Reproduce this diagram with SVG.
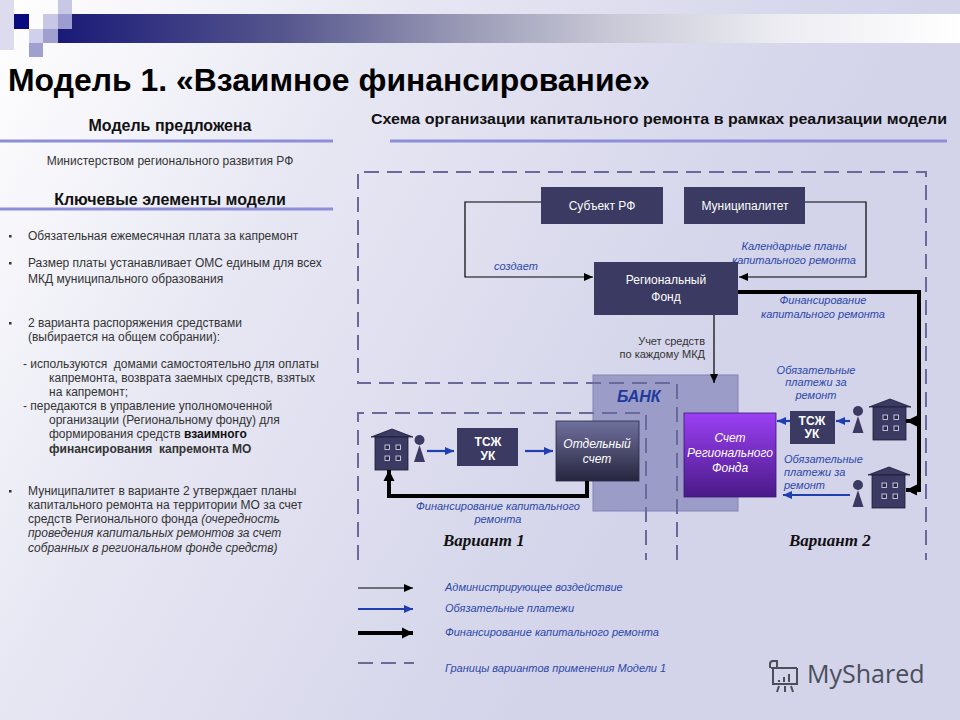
<svg xmlns="http://www.w3.org/2000/svg" width="960" height="720" viewBox="0 0 960 720">
<defs>
<linearGradient id="bg" gradientUnits="userSpaceOnUse" x1="0" y1="0" x2="700" y2="400">
<stop offset="0" stop-color="#ffffff"/><stop offset="0.45" stop-color="#e6e6f3"/><stop offset="1" stop-color="#d3d3ea"/>
</linearGradient>
<linearGradient id="bar" x1="0" y1="0" x2="1" y2="0">
<stop offset="0" stop-color="#1a1a78"/><stop offset="0.25" stop-color="#56568e"/><stop offset="0.45" stop-color="#9a9ab6"/><stop offset="0.62" stop-color="#cacad8"/><stop offset="0.8" stop-color="#ececf2"/><stop offset="1" stop-color="#ffffff"/>
</linearGradient>
<linearGradient id="gSep" x1="0" y1="0" x2="0" y2="1">
<stop offset="0" stop-color="#70709e"/><stop offset="1" stop-color="#26263e"/>
</linearGradient>
<linearGradient id="gFund" x1="0" y1="0" x2="0" y2="1">
<stop offset="0" stop-color="#9b40f4"/><stop offset="1" stop-color="#4a1a88"/>
</linearGradient>
<marker id="aThin" markerUnits="userSpaceOnUse" markerWidth="10" markerHeight="10" refX="9" refY="5" orient="auto">
<path d="M0,1 L9,5 L0,9 Z" fill="#000"/>
</marker>
<marker id="aBlue" markerUnits="userSpaceOnUse" markerWidth="10" markerHeight="10" refX="9" refY="5" orient="auto">
<path d="M0,1 L9,5 L0,9 Z" fill="#1f3eb0"/>
</marker>
<marker id="aThick" markerUnits="userSpaceOnUse" markerWidth="12" markerHeight="12" refX="11" refY="6" orient="auto">
<path d="M0,0.5 L11,6 L0,11.5 Z" fill="#000"/>
</marker>
<g id="house">
<path d="M-21,8 L0,0 L21,8 Z" fill="#3a3a62" stroke="#1c1c34" stroke-width="0.8"/>
<rect x="-17" y="8" width="33" height="33" fill="#3a3a62" stroke="#1c1c34" stroke-width="0.8"/>
<rect x="-7" y="16" width="4.5" height="4.5" fill="#2a2a48" stroke="#d0d0e8" stroke-width="0.9"/>
<rect x="4" y="16" width="4.5" height="4.5" fill="#2a2a48" stroke="#d0d0e8" stroke-width="0.9"/>
<rect x="-7" y="27" width="4.5" height="4.5" fill="#2a2a48" stroke="#d0d0e8" stroke-width="0.9"/>
<rect x="4" y="27" width="4.5" height="4.5" fill="#2a2a48" stroke="#d0d0e8" stroke-width="0.9"/>
</g>
<g id="person">
<circle cx="0" cy="0" r="5" fill="#3a3a62"/>
<path d="M0,5 L5.5,22 L-5.5,22 Z" fill="#3a3a62"/>
</g>
</defs>
<style>
.t{font-family:"Liberation Sans",Arial,sans-serif;}
.body{font-family:"Liberation Sans",Arial,sans-serif;font-size:12px;fill:#333;}
.hd{font-family:"Liberation Sans",Arial,sans-serif;font-size:16px;font-weight:bold;fill:#111;}
.lbl{font-family:"Liberation Sans",Arial,sans-serif;font-size:11px;font-style:italic;fill:#2c48a8;}
.box{fill:#3a3a62;}
.btx{font-family:"Liberation Sans",Arial,sans-serif;font-size:12px;fill:#fff;text-anchor:middle;}
.bold{font-weight:bold;}
.var{font-family:"Liberation Serif","Times New Roman",serif;font-size:17px;font-weight:bold;font-style:italic;fill:#111;}
.dash{fill:none;stroke:#6a6a9a;stroke-width:2;stroke-dasharray:15 8;}
.thin{fill:none;stroke:#000;stroke-width:1.2;}
.blue{fill:none;stroke:#1f3eb0;stroke-width:2.2;}
.thick{fill:none;stroke:#000;stroke-width:4;}
.uline{stroke:#8e8ed8;stroke-width:3;}
</style>

<rect x="0" y="0" width="960" height="720" fill="url(#bg)"/>

<g id="decor">
<rect x="0" y="0" width="14" height="50" fill="#dcdcee"/>
<rect x="58" y="14" width="902" height="29" fill="url(#bar)"/>
<rect x="14" y="14" width="15" height="15" fill="#0a0a80"/>
<rect x="43" y="14" width="15" height="15" fill="#c8c8e6"/>
<rect x="58" y="0" width="14" height="14" fill="#c8c8e6"/>
<rect x="58" y="14" width="14" height="15" fill="#9c9cd0"/>
<rect x="29" y="29" width="14" height="14" fill="#d0d0ea"/>
<rect x="43" y="29" width="15" height="14" fill="#a0a0d0"/>
<rect x="29" y="43" width="14" height="14" fill="#a0a0d0"/>
</g>

<g id="title">
<text class="t" x="8" y="91" font-size="31" font-weight="bold" fill="#000" textLength="642" lengthAdjust="spacingAndGlyphs">Модель 1. «Взаимное финансирование»</text>
</g>

<g id="left-column">
<text class="hd" x="170" y="131" text-anchor="middle">Модель предложена</text>
<line class="uline" x1="0" y1="141" x2="333" y2="141"/>
<text class="body" x="170" y="165" text-anchor="middle">Министерством регионального развития РФ</text>
<text class="hd" x="170" y="205" text-anchor="middle">Ключевые элементы модели</text>
<line class="uline" x1="0" y1="209" x2="333" y2="209"/>

<rect x="9" y="235" width="2.5" height="2.5" fill="#333"/>
<text class="body" x="28" y="240">Обязательная ежемесячная плата за капремонт</text>
<rect x="9" y="262" width="2.5" height="2.5" fill="#333"/>
<text class="body" x="28" y="267">Размер платы устанавливает ОМС единым для всех</text>
<text class="body" x="28" y="283">МКД муниципального образования</text>

<rect x="9" y="322" width="2.5" height="2.5" fill="#333"/>
<text class="body" x="28" y="327">2 варианта распоряжения средствами</text>
<text class="body" x="28" y="341">(выбирается на общем собрании):</text>
<text class="body" x="23" y="368" xml:space="preserve">- используются  домами самостоятельно для оплаты</text>
<text class="body" x="49" y="382">капремонта, возврата заемных средств, взятых</text>
<text class="body" x="49" y="396">на капремонт;</text>
<text class="body" x="23" y="410">- передаются в управление уполномоченной</text>
<text class="body" x="49" y="424">организации (Региональному фонду) для</text>
<text class="body" x="49" y="438">формирования средств <tspan class="bold" fill="#111">взаимного</tspan></text>
<text class="body bold" x="49" y="453" fill="#111" xml:space="preserve">финансирования  капремонта МО</text>

<rect x="9" y="490" width="2.5" height="2.5" fill="#333"/>
<text class="body" x="28" y="495">Муниципалитет в варианте 2 утверждает планы</text>
<text class="body" x="28" y="509">капитального ремонта на территории МО за счет</text>
<text class="body" x="28" y="523">средств Регионального фонда <tspan font-style="italic">(очередность</tspan></text>
<text class="body" x="28" y="537" font-style="italic">проведения капитальных ремонтов за счет</text>
<text class="body" x="28" y="552" font-style="italic">собранных в региональном фонде средств)</text>
</g>

<g id="scheme-header">
<text class="t" x="371" y="124" font-size="15.5" font-weight="bold" fill="#111" textLength="576" lengthAdjust="spacingAndGlyphs">Схема организации капитального ремонта в рамках реализации модели</text>
<line class="uline" x1="390" y1="141" x2="947" y2="141"/>
</g>

<g id="bank">
<rect x="593" y="375" width="145" height="136" fill="#9c9cc8" stroke="#8484b4" stroke-width="1"/>
<text class="t" x="617" y="402" font-size="16" font-weight="bold" font-style="italic" fill="#1e3a9a">БАНК</text>
</g>

<g id="boundaries">
<path class="dash" d="M677,560 V383 H358 V172 H926 V560"/>
<path class="dash" d="M358,560 V413 H646 V560"/>
</g>

<g id="labels">
<text class="lbl" x="794" y="250" text-anchor="middle">Календарные планы</text>
<text class="lbl" x="794" y="264" text-anchor="middle">капитального ремонта</text>
<text class="lbl" x="494" y="270" font-size="11.5">создает</text>
<text class="lbl" x="823" y="304" text-anchor="middle">Финансирование</text>
<text class="lbl" x="823" y="318" text-anchor="middle">капитального ремонта</text>
<text class="t" x="705" y="345" font-size="11" fill="#333" text-anchor="end">Учет средств</text>
<text class="t" x="705" y="358" font-size="11" fill="#333" text-anchor="end">по каждому МКД</text>
<text class="lbl" x="816" y="374" text-anchor="middle">Обязательные</text>
<text class="lbl" x="816" y="386" text-anchor="middle">платежи за</text>
<text class="lbl" x="816" y="399" text-anchor="middle">ремонт</text>
<text class="lbl" x="784" y="463">Обязательные</text>
<text class="lbl" x="784" y="476">платежи за</text>
<text class="lbl" x="784" y="489">ремонт</text>
<text class="lbl" x="498" y="510" text-anchor="middle">Финансирование капитального</text>
<text class="lbl" x="498" y="523" text-anchor="middle">ремонта</text>
<text class="var" x="443" y="546">Вариант 1</text>
<text class="var" x="789" y="546">Вариант 2</text>
</g>

<g id="subject-rf">
<rect class="box" x="541" y="187" width="122" height="37"/>
<text class="btx" x="602" y="210">Субъект РФ</text>
</g>
<g id="municipality">
<rect class="box" x="684" y="187" width="121" height="37"/>
<text class="btx" x="745" y="210">Муниципалитет</text>
</g>
<g id="regional-fund">
<rect class="box" x="594" y="262" width="144" height="53"/>
<text class="btx" x="666" y="284">Региональный</text>
<text class="btx" x="666" y="301">Фонд</text>
</g>

<g id="separate-account">
<rect x="556" y="421" width="83" height="60" fill="url(#gSep)" stroke="#2a2a44" stroke-width="0.8"/>
<text class="btx" x="597" y="448" font-size="11.5" font-style="italic">Отдельный</text>
<text class="btx" x="597" y="463" font-size="11.5" font-style="italic">счет</text>
</g>
<g id="fund-account">
<rect x="684" y="413" width="92" height="84" fill="url(#gFund)" stroke="#3a1870" stroke-width="0.8"/>
<text class="btx" x="730" y="442" font-size="11" font-style="italic">Счет</text>
<text class="btx" x="730" y="457" font-size="11" font-style="italic">Регионального</text>
<text class="btx" x="730" y="472" font-size="11" font-style="italic">Фонда</text>
</g>

<g id="tszh-1">
<rect class="box" x="457" y="428" width="61" height="38"/>
<text class="btx bold" x="488" y="446" font-size="11.5">ТСЖ</text>
<text class="btx bold" x="488" y="460" font-size="11.5">УК</text>
</g>
<g id="tszh-2">
<rect class="box" x="790" y="411" width="45" height="33"/>
<text class="btx bold" x="812" y="425" font-size="11.5">ТСЖ</text>
<text class="btx bold" x="812" y="438" font-size="11.5">УК</text>
</g>

<g id="house-1"><use href="#house" x="392" y="429"/></g>
<g id="person-1"><use href="#person" x="419.5" y="440"/></g>
<g id="house-2"><use href="#house" x="890" y="399"/></g>
<g id="person-2"><use href="#person" x="858" y="411"/></g>
<g id="house-3"><use href="#house" x="889" y="467"/></g>
<g id="person-3"><use href="#person" x="858" y="485"/></g>

<g id="connectors">
<path class="thin" d="M541,202 H465 V277 H593" marker-end="url(#aThin)"/>
<path class="thin" d="M805,202 H866 V277 H739" marker-end="url(#aThin)"/>
<path class="thin" d="M714,315 V383" marker-end="url(#aThin)"/>
<path class="thick" d="M738,292 H919 V490 H906" marker-end="url(#aThick)"/>
<path class="thick" d="M919,421 H906" marker-end="url(#aThick)"/>
<path class="thick" d="M587,481 V496 H389 V470" marker-end="url(#aThick)"/>
<path class="blue" d="M427,451 H454" marker-end="url(#aBlue)"/>
<path class="blue" d="M525,451 H553" marker-end="url(#aBlue)"/>
<path class="blue" d="M850,421 H836" marker-end="url(#aBlue)"/>
<path class="blue" d="M790,421 H777" marker-end="url(#aBlue)"/>
<path class="blue" d="M850,495 H783" marker-end="url(#aBlue)"/>
</g>

<g id="legend">
<path class="thin" d="M358,588 H413" marker-end="url(#aThin)"/>
<text class="lbl" x="445" y="591">Администрирующее воздействие</text>
<path class="blue" d="M358,609 H413" marker-end="url(#aBlue)"/>
<text class="lbl" x="445" y="612">Обязательные платежи</text>
<path class="thick" d="M358,633 H413" marker-end="url(#aThick)"/>
<text class="lbl" x="445" y="636">Финансирование капитального ремонта</text>
<path class="dash" d="M358,663 H414" stroke-dasharray="14 7"/>
<text class="lbl" x="445" y="672">Границы вариантов применения Модели 1</text>
</g>

<g id="watermark" fill="none" stroke="#4a4f5a" stroke-width="2">
<path d="M771,668 H797 M773,668 V684 H797 V668"/>
<path d="M770,668 V664 Q770,661 773,661 H777 V668"/>
<line x1="779" y1="680" x2="779" y2="682"/>
<line x1="784" y1="677" x2="784" y2="682"/>
<line x1="789" y1="674" x2="789" y2="682"/>
<line x1="779" y1="686" x2="777" y2="692"/>
<line x1="785" y1="686" x2="785" y2="692"/>
<line x1="791" y1="686" x2="793" y2="692"/>
<text x="807" y="683" font-family="'Open Sans','Noto Sans',sans-serif" font-size="25" fill="#4a4f5a" stroke="none">MyShared</text>
</g>
</svg>
